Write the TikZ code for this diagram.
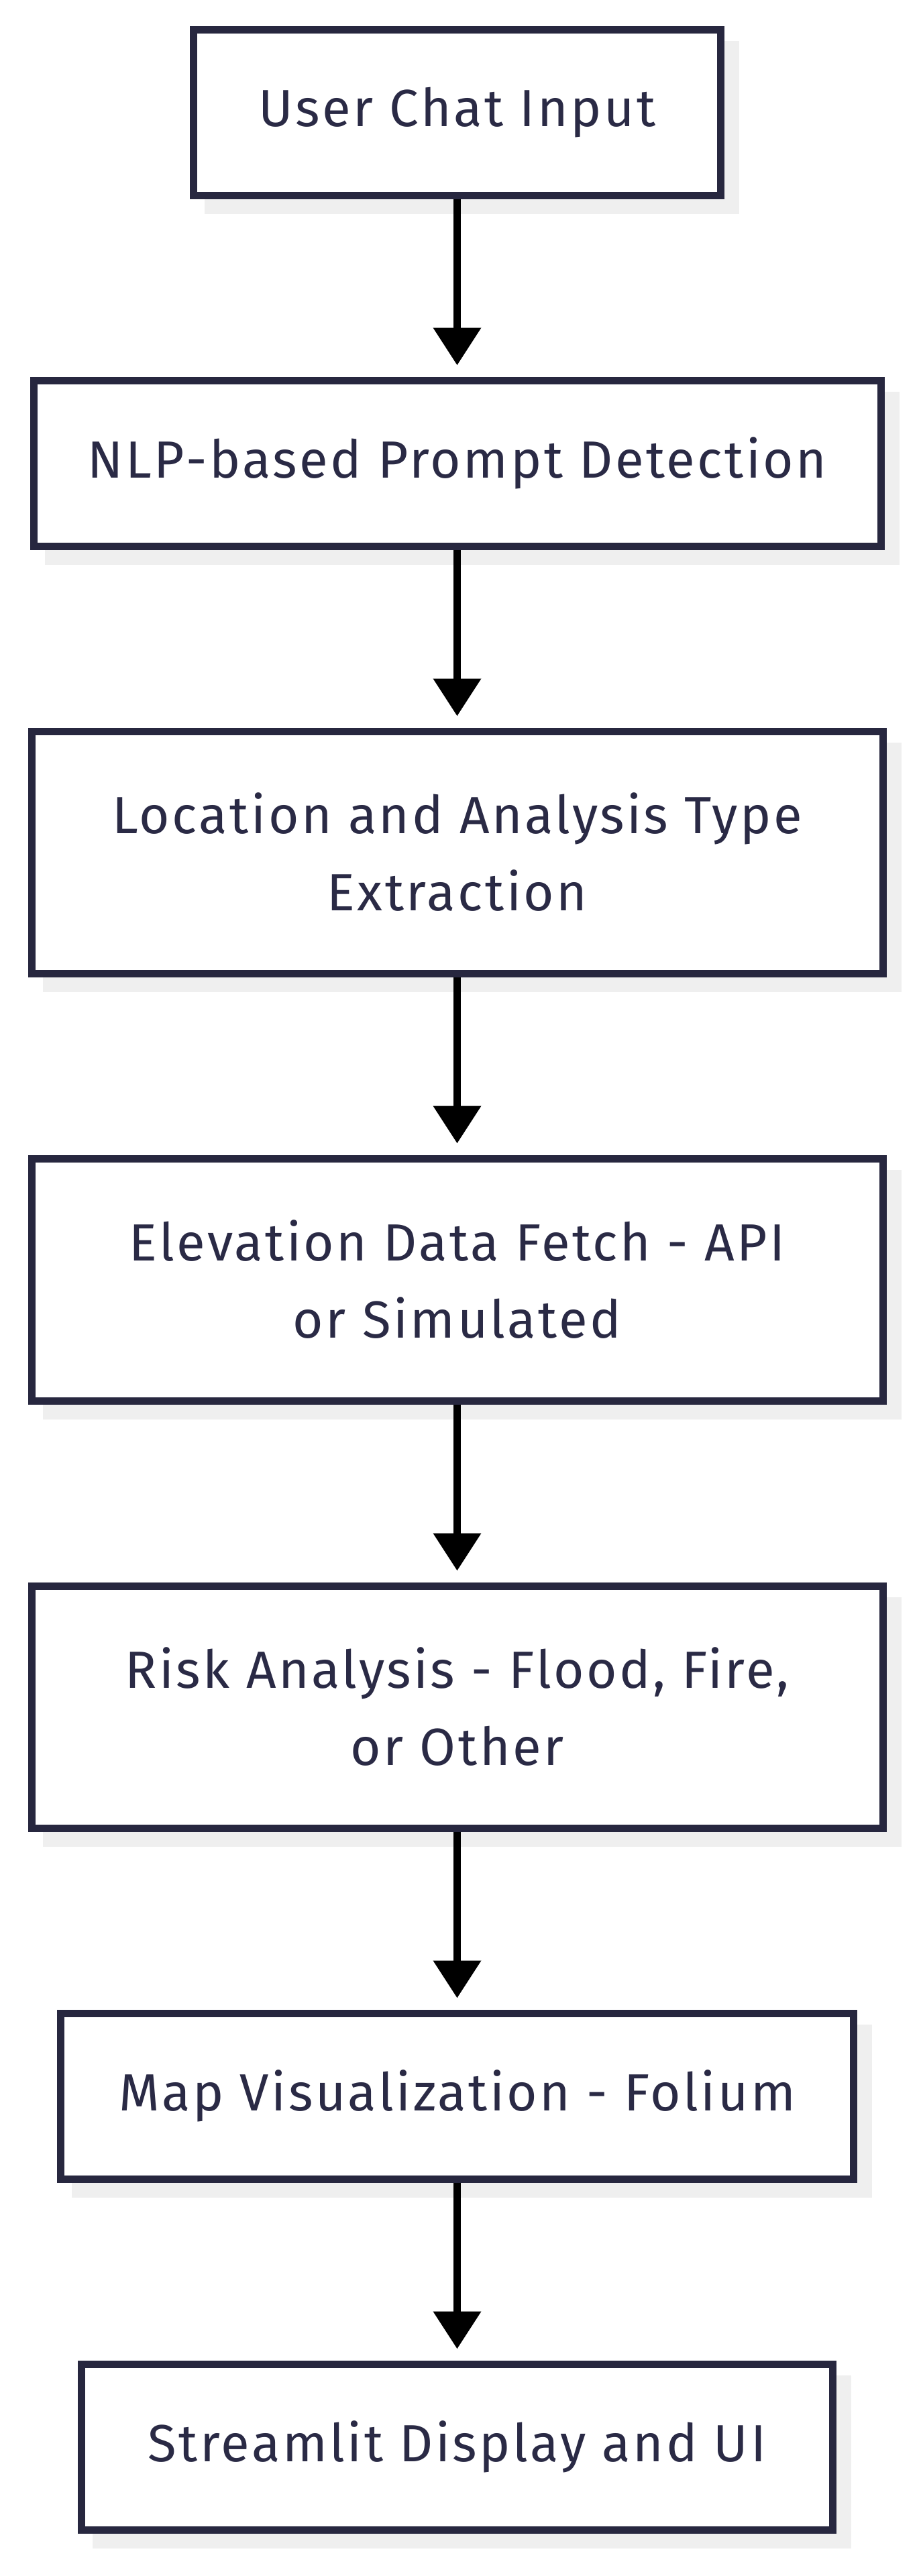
\documentclass[tikz,border=0pt]{standalone}
\usepackage{fontspec}
\setmainfont[LetterSpace=4.5]{Fira Sans}
\usepackage{xcolor}
\usepackage{tikz}
\usetikzlibrary{arrows.meta, positioning, shadows}
\definecolor{boxline}{HTML}{27273F}
\definecolor{boxtext}{HTML}{2A2A45}
\definecolor{shade}{HTML}{EFEFEF}
\tikzset{
  stage/.style={rectangle, draw=boxline, line width=5.5pt, fill=white, align=center, text=boxtext, font=\fontsize{39pt}{57.5pt}\selectfont, minimum height=123.5pt, general shadow={fill=shade, draw=shade, shadow xshift=11pt, shadow yshift=-11pt}},
  tall/.style={minimum height=180.5pt},
  arr/.style={-{Triangle[length=28pt, width=34.5pt]}, line width=5.5pt, black, shorten >=8.5pt},
}
\begin{document}
\begin{tikzpicture}[node distance=132.5pt]
\useasboundingbox (0,0) rectangle (686pt,-1920pt);
\node[stage, minimum width=393pt] (input) at (340.75pt,-83.75pt) {User Chat Input};
\node[stage, below=of input, minimum width=631.5pt] (detect) {NLP-based Prompt Detection};
\node[stage, tall, below=of detect, minimum width=634.5pt] (extract) {Location and Analysis Type\\Extraction};
\node[stage, tall, below=of extract, minimum width=634.5pt] (fetch) {Elevation Data Fetch - API\\or Simulated};
\node[stage, tall, below=of fetch, minimum width=634.5pt] (risk) {Risk Analysis - Flood, Fire,\\or Other};
\node[stage, below=of risk, minimum width=591pt] (mapviz) {Map Visualization - Folium};
\node[stage, below=of mapviz, minimum width=560pt] (display) {Streamlit Display and UI};
\draw[arr] (input)--(detect); \draw[arr] (detect)--(extract); \draw[arr] (extract)--(fetch);
\draw[arr] (fetch)--(risk); \draw[arr] (risk)--(mapviz); \draw[arr] (mapviz)--(display);
\end{tikzpicture}
\end{document}
